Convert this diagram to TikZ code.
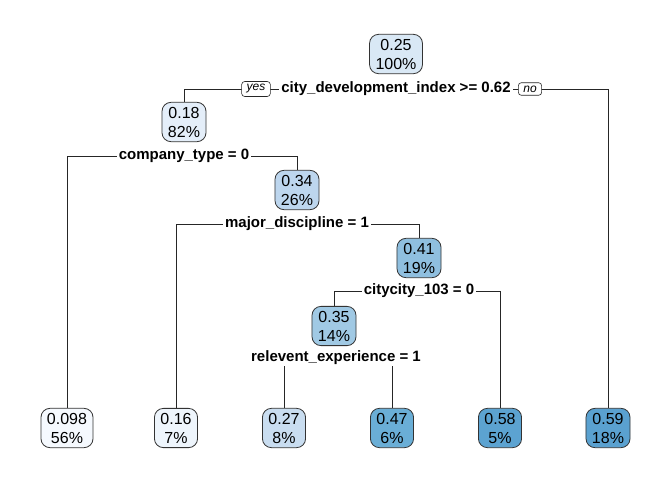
\documentclass[tikz,border=0pt]{standalone}
\usepackage{fontspec}
\setmainfont{Liberation Sans}
\usetikzlibrary{backgrounds}
\pgfdeclarelayer{linelayer}
\pgfsetlayers{background,linelayer,main}
\definecolor{c025}{HTML}{D9E8F5}
\definecolor{c018}{HTML}{E4EEF9}
\definecolor{c034}{HTML}{BDD6EE}
\definecolor{c041}{HTML}{8FBFDF}
\definecolor{c035}{HTML}{A0C9E4}
\definecolor{c0098}{HTML}{F5F9FE}
\definecolor{c016}{HTML}{EEF5FC}
\definecolor{c027}{HTML}{C9DDF0}
\definecolor{c047}{HTML}{6AAED6}
\definecolor{c058}{HTML}{5CA3D1}
\definecolor{c059}{HTML}{5AA1D0}
\begin{document}
\begin{tikzpicture}[x=1pt,y=-1pt,
  tnode/.style={draw=black!80, rounded corners=9pt, align=center,
    font=\fontsize{16}{19}\selectfont, inner xsep=6pt, inner ysep=4.5pt, line width=0.8pt},
  split/.style={fill=white, font=\bfseries\fontsize{15}{18}\selectfont, inner xsep=2pt, inner ysep=1pt},
  yn/.style={draw=black!85, fill=white, rounded corners=3pt, font=\itshape\fontsize{12}{14}\selectfont,
    inner xsep=5pt, inner ysep=3pt, line width=0.6pt},
  edge/.style={draw=black!85, line width=0.6pt}]
\begin{scope}[on background layer]
\useasboundingbox[fill=white] (0,0) rectangle (672,480);
\end{scope}
% internal nodes
\node[tnode, fill=c025] (n025) at (396,54) {0.25\\100\%};
\node[tnode, fill=c018] (n018) at (184,122) {0.18\\82\%};
\node[tnode, fill=c034] (n034) at (297,190) {0.34\\26\%};
\node[tnode, fill=c041] (n041) at (419,258) {0.41\\19\%};
\node[tnode, fill=c035] (n035) at (334,326) {0.35\\14\%};
% leaves
\node[tnode, fill=c0098] (l0098) at (67,428) {0.098\\56\%};
\node[tnode, fill=c016] (l016) at (176,428) {0.16\\7\%};
\node[tnode, fill=c027] (l027) at (284,428) {0.27\\8\%};
\node[tnode, fill=c047] (l047) at (392,428) {0.47\\6\%};
\node[tnode, fill=c058] (l058) at (500,428) {0.58\\5\%};
\node[tnode, fill=c059] (l059) at (608,428) {0.59\\18\%};
% split labels
\node[split] (s1) at (396,89) {city\_development\_index >= 0.62};
\node[yn] (yes) at (256,89) {yes};
\node[yn] (no) at (530,89) {no};
\node[split] (s2) at (184,156) {company\_type = 0};
\node[split] (s3) at (297,224) {major\_discipline = 1};
\node[split] (s4) at (419,291) {citycity\_103 = 0};
\node[split] (s5) at (336,358) {relevent\_experience = 1};
% connectors
\begin{pgfonlayer}{linelayer}
\draw[edge] (n018.north) |- (s1.center) -| (l059.north);
\draw[edge] (l0098.north) |- (s2.center) -| (n034.north);
\draw[edge] (l016.north) |- (s3.center) -| (n041.north);
\draw[edge] (n035.north) |- (s4.center) -| (l058.north);
\draw[edge] (l027.north) |- (s5.center) -| (l047.north);
\end{pgfonlayer}
\end{tikzpicture}
\end{document}
